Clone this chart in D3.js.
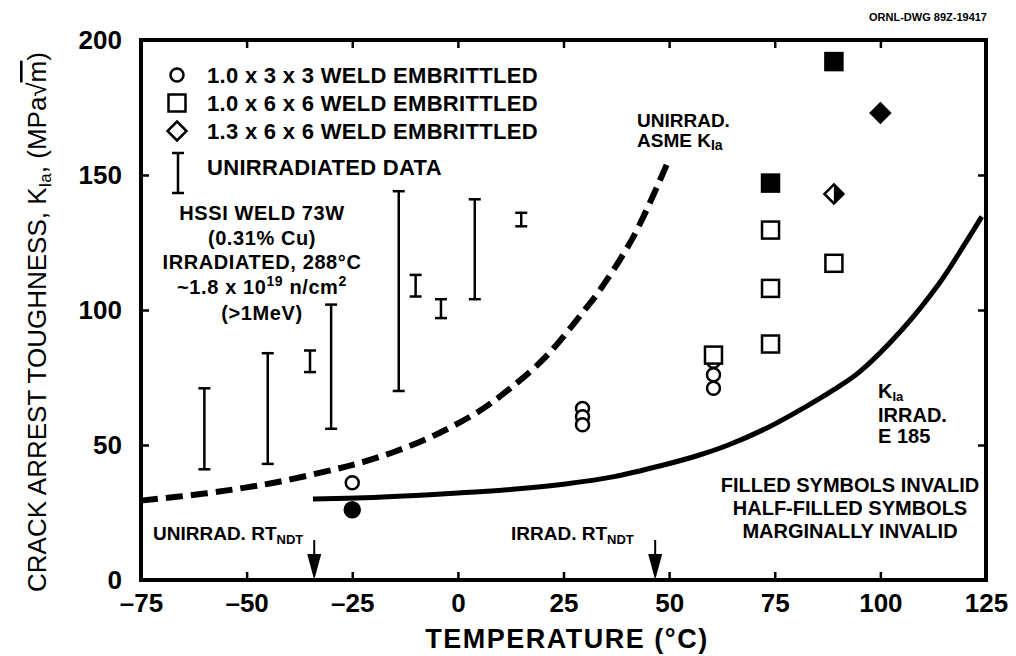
<!DOCTYPE html>
<html>
<head>
<meta charset="utf-8">
<script src="https://cdn.jsdelivr.net/npm/d3@7"></script>
<style>
  body { margin: 0; background: #fff; }
  svg { font-family: "Liberation Sans", Arial, sans-serif; font-weight: bold; }
</style>
</head>
<body>
<svg id="chart" width="1016" height="656"></svg>
<script>
// unirradiated data (scatter bands)
const barT = [-60, -45, -35, -30, -14, -10, -4, 4, 15];
const barLow = [41, 43, 77, 56, 70, 105, 97, 104, 131];
const barHigh = [71, 84, 85, 102, 144, 113, 104, 141, 136];

// 1.0 x 3 x 3 specimens
const circT = [-25, 29.5, 29.5, 29.5, 60.5, 60.5, 60.5, -25];
const circK = [36, 63.5, 60.5, 57.5, 81, 76, 71, 26];
const circFill = ["open", "open", "open", "open", "open", "open", "open", "full"];

// 1.0 x 6 x 6 specimens
const sqT = [60.5, 74, 74, 74, 89, 74, 89];
const sqK = [83.3, 129.6, 108, 87.4, 117.3, 147, 192];
const sqFill = ["open", "open", "open", "open", "open", "full", "full"];

// 1.3 x 6 x 6 specimens
const diaT = [89, 100];
const diaK = [143, 173];
const diaFill = ["half", "full"];

// unirradiated ASME KIa curve
const asmeT = [-75, -60, -50, -42, -31, -24, -15, -5, 5, 12, 21, 30.5, 33, 41.5, 49.7];
const asmeK = [29.4, 32, 34.3, 36.5, 40.3, 43, 47.5, 54, 62.5, 70.5, 83, 101, 106, 127, 154.8];

// irradiated KIa curve (E 185)
const irrT = [-34.3, -20, -10, 0, 13, 25, 37, 48, 57, 64, 73, 83, 89, 95, 105, 114, 120, 124];
const irrK = [30, 30.6, 31.3, 32.2, 33.6, 35.5, 38.3, 42.3, 46.2, 50, 56.2, 64.8, 70.5, 77, 92.5, 110, 124.5, 134.6];

const xTicks = [-75, -50, -25, 0, 25, 50, 75, 100, 125];
const yTicks = [0, 50, 100, 150, 200];
const rtUnirr = -34, rtIrr = 46.7;

const svg = d3.select("#chart");
const x = d3.scaleLinear().domain([-75, 125]).range([141, 986]);
const y = d3.scaleLinear().domain([0, 200]).range([580, 40]);

// axes, ticks pointing inward on all four sides
svg.append("g").attr("transform", "translate(0,580)")
  .call(d3.axisBottom(x).tickValues(xTicks).tickSize(-8).tickPadding(14)
    .tickFormat(d => d < 0 ? "\u2013" + (-d) : d))
  .call(g => g.select(".domain").remove());
svg.append("g").attr("transform", "translate(0,40)")
  .call(d3.axisTop(x).tickValues(xTicks).tickSize(-8).tickFormat(""))
  .call(g => g.select(".domain").remove());
svg.append("g").attr("transform", "translate(141,0)")
  .call(d3.axisLeft(y).tickValues(yTicks).tickSize(-8).tickPadding(19))
  .call(g => g.select(".domain").remove());
svg.append("g").attr("transform", "translate(986,0)")
  .call(d3.axisRight(y).tickValues(yTicks).tickSize(-8).tickFormat(""))
  .call(g => g.select(".domain").remove());
svg.selectAll(".tick line").attr("stroke", "#000").attr("stroke-width", 2.5);
svg.selectAll(".tick text").attr("fill", "#000").style("font-size", "26px").style("font-weight", "bold");

svg.append("rect").attr("x", 141).attr("y", 40).attr("width", 845).attr("height", 540)
  .attr("fill", "none").attr("stroke", "#000").attr("stroke-width", 4);

// curves
const line = d3.line().x(d => x(d[0])).y(d => y(d[1])).curve(d3.curveCatmullRom.alpha(0.5));
svg.append("path").datum(d3.zip(asmeT, asmeK)).attr("d", line)
  .attr("fill", "none").attr("stroke", "#000").attr("stroke-width", 6).attr("stroke-dasharray", "17,8");
svg.append("path").datum(d3.zip(irrT, irrK)).attr("d", line)
  .attr("fill", "none").attr("stroke", "#000").attr("stroke-width", 5);

// scatter bands
const bars = svg.append("g").attr("stroke", "#000").attr("stroke-width", 2.5);
barT.forEach((t, i) => {
  const cx = x(t);
  bars.append("line").attr("x1", cx).attr("x2", cx).attr("y1", y(barLow[i])).attr("y2", y(barHigh[i]));
  [barLow[i], barHigh[i]].forEach(v => {
    bars.append("line").attr("x1", cx - 6).attr("x2", cx + 6).attr("y1", y(v)).attr("y2", y(v));
  });
});

// markers
function circle(g, cx, cy, fill) {
  g.append("circle").attr("cx", cx).attr("cy", cy).attr("r", fill === "full" ? 7.5 : 6.5)
    .attr("fill", fill === "full" ? "#000" : "#fff").attr("stroke", "#000").attr("stroke-width", 2.5);
}
function square(g, cx, cy, fill) {
  g.append("rect").attr("x", cx - 8.5).attr("y", cy - 8.5).attr("width", 17).attr("height", 17)
    .attr("fill", fill === "full" ? "#000" : "#fff").attr("stroke", "#000").attr("stroke-width", 2.5);
}
function diamond(g, cx, cy, fill) {
  const r = 9.5;
  g.append("path").attr("d", `M${cx},${cy - r}L${cx + r},${cy}L${cx},${cy + r}L${cx - r},${cy}Z`)
    .attr("fill", fill === "full" ? "#000" : "#fff").attr("stroke", "#000").attr("stroke-width", 2.5)
    .attr("stroke-linejoin", "miter");
  if (fill === "half") {
    g.append("path").attr("d", `M${cx},${cy - r}L${cx + r},${cy}L${cx},${cy + r}Z`).attr("fill", "#000");
  }
}
const marks = svg.append("g");
circT.forEach((t, i) => circle(marks, x(t), y(circK[i]), circFill[i]));
sqT.forEach((t, i) => square(marks, x(t), y(sqK[i]), sqFill[i]));
diaT.forEach((t, i) => diamond(marks, x(t), y(diaK[i]), diaFill[i]));

// legend
const leg = svg.append("g");
circle(leg, 177, 75, "open");
square(leg, 177, 103, "open");
diamond(leg, 177, 131, "open");
leg.append("line").attr("x1", 178).attr("x2", 178).attr("y1", 153).attr("y2", 193).attr("stroke", "#000").attr("stroke-width", 2.5);
leg.append("line").attr("x1", 172).attr("x2", 184).attr("y1", 153).attr("y2", 153).attr("stroke", "#000").attr("stroke-width", 2.5);
leg.append("line").attr("x1", 172).attr("x2", 184).attr("y1", 193).attr("y2", 193).attr("stroke", "#000").attr("stroke-width", 2.5);
const legLabels = ["1.0 x 3 x 3 WELD EMBRITTLED", "1.0 x 6 x 6 WELD EMBRITTLED", "1.3 x 6 x 6 WELD EMBRITTLED", "UNIRRADIATED DATA"];
const legY = [83, 111, 139, 175];
legLabels.forEach((s, i) => {
  leg.append("text").attr("x", 207).attr("y", legY[i]).style("font-size", "22px")
    .style("letter-spacing", "0.3px").text(s);
});

// material note
const note = svg.append("text").attr("text-anchor", "middle").style("font-size", "20px")
  .style("letter-spacing", "0.6px");
note.append("tspan").attr("x", 262).attr("y", 220).text("HSSI WELD 73W");
note.append("tspan").attr("x", 262).attr("y", 245).text("(0.31% Cu)");
note.append("tspan").attr("x", 262).attr("y", 269).text("IRRADIATED,  288\u00B0C");
const n4 = note.append("tspan").attr("x", 262).attr("y", 294);
n4.append("tspan").text("~1.8 x 10");
n4.append("tspan").attr("dy", -8).style("font-size", "14px").text("19");
n4.append("tspan").attr("dy", 8).text(" n/cm");
n4.append("tspan").attr("dy", -8).style("font-size", "14px").text("2");
note.append("tspan").attr("x", 262).attr("y", 320).text("(>1MeV)");

function kia(t, size) {
  t.append("tspan").text("K");
  t.append("tspan").attr("dy", 3).style("font-size", size).text("Ia");
}

// curve labels
const asmeLab = svg.append("text").style("font-size", "19px");
asmeLab.append("tspan").attr("x", 637).attr("y", 127).text("UNIRRAD.");
const a2 = asmeLab.append("tspan").attr("x", 637).attr("y", 147);
a2.append("tspan").text("ASME ");
kia(a2, "14px");

const irrLab = svg.append("text").style("font-size", "20px");
const i1 = irrLab.append("tspan").attr("x", 878).attr("y", 398);
kia(i1, "13px");
irrLab.append("tspan").attr("x", 878).attr("y", 422).text("IRRAD.");
irrLab.append("tspan").attr("x", 878).attr("y", 443).text("E 185");

const inv = svg.append("text").attr("text-anchor", "middle").style("font-size", "20px");
inv.append("tspan").attr("x", 850).attr("y", 492).text("FILLED SYMBOLS INVALID");
inv.append("tspan").attr("x", 850).attr("y", 515).text("HALF-FILLED SYMBOLS");
inv.append("tspan").attr("x", 850).attr("y", 538).text("MARGINALLY INVALID");

// RTNDT arrows
function rtLabel(xl, yl, prefix) {
  const t = svg.append("text").attr("x", xl).attr("y", yl).style("font-size", "19px");
  t.append("tspan").text(prefix + " RT");
  t.append("tspan").attr("dy", 4).style("font-size", "13px").text("NDT");
}
rtLabel(153, 540, "UNIRRAD.");
rtLabel(511, 540, "IRRAD.");
[rtUnirr, rtIrr].forEach(t => {
  const cx = x(t);
  svg.append("line").attr("x1", cx).attr("x2", cx).attr("y1", 540).attr("y2", 556).attr("stroke", "#000").attr("stroke-width", 2);
  svg.append("path").attr("d", `M${cx - 7},554L${cx + 7},554L${cx},580Z`).attr("fill", "#000");
});

// axis titles
svg.append("text").attr("x", 567).attr("y", 648).attr("text-anchor", "middle").style("font-size", "27px")
  .style("letter-spacing", "1.5px").text("TEMPERATURE (\u00B0C)");
const yt = svg.append("text").attr("transform", "translate(46,322) rotate(-90)").attr("text-anchor", "middle")
  .style("font-size", "26px").style("font-weight", "normal");
yt.append("tspan").text("CRACK ARREST TOUGHNESS,  K");
yt.append("tspan").attr("dy", 5).style("font-size", "17px").text("Ia");
yt.append("tspan").attr("dy", -5).text(", (MPa\u221A");
yt.append("tspan").style("text-decoration", "overline").text("m");
yt.append("tspan").text(")");

svg.append("text").attr("x", 987).attr("y", 21).attr("text-anchor", "end").style("font-size", "11px")
  .text("ORNL-DWG 89Z-19417");
</script>
</body>
</html>
